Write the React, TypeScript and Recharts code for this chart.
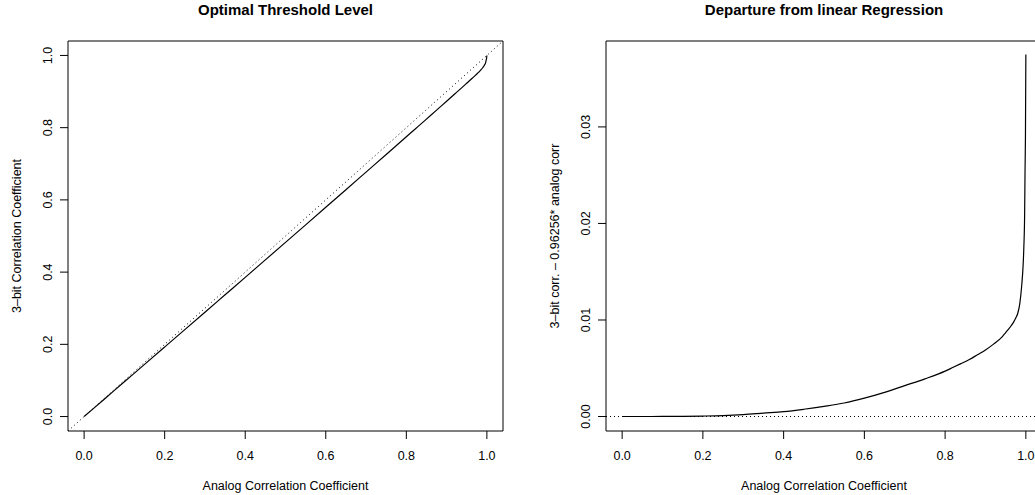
import React from "react";
import { LineChart, Line, XAxis, YAxis, ReferenceLine, ReferenceArea } from "recharts";

const analogCorr = [0, 0.05, 0.1, 0.15, 0.2, 0.25, 0.3, 0.35, 0.4, 0.45, 0.5, 0.55, 0.6, 0.65, 0.7, 0.75, 0.8, 0.82, 0.84, 0.86, 0.88, 0.9, 0.92, 0.94, 0.95, 0.96, 0.97, 0.975, 0.98, 0.985, 0.99, 0.993, 0.995, 0.997, 0.998, 0.999, 1.0];
const threeBitCorr = [0, 0.04813, 0.09627, 0.1444, 0.19256, 0.24074, 0.28897, 0.33725, 0.38552, 0.4339, 0.48233, 0.53081, 0.57944, 0.62816, 0.67699, 0.72582, 0.77475, 0.7944, 0.81405, 0.8337, 0.85345, 0.8732, 0.89306, 0.91301, 0.92313, 0.93326, 0.94348, 0.9487, 0.95401, 0.95982, 0.96663, 0.97132, 0.97525, 0.98067, 0.98613, 0.9906, 1.0];
const departure = [0, 0, 0.00001, 0.00002, 0.00005, 0.0001, 0.0002, 0.00035, 0.0005, 0.00075, 0.00105, 0.0014, 0.0019, 0.0025, 0.0032, 0.0039, 0.0047, 0.0051, 0.0055, 0.0059, 0.0064, 0.0069, 0.0075, 0.0082, 0.0087, 0.0092, 0.0098, 0.0102, 0.0107, 0.0117, 0.0137, 0.0155, 0.0175, 0.021, 0.0255, 0.029, 0.0375];

const xTicks = [0, 0.2, 0.4, 0.6, 0.8, 1.0];
const leftYTicks = [0, 0.2, 0.4, 0.6, 0.8, 1.0];
const rightYTicks = [0, 0.01, 0.02, 0.03];

const leftData = analogCorr.map((x, i) => ({ x, y: threeBitCorr[i] }));
const rightData = analogCorr.map((x, i) => ({ x, y: departure[i] }));

const FONT = "'Liberation Sans', Arial, Helvetica, sans-serif";
const FS = 12.5;

const XTick = (props: any) => {
  const { x, y, payload } = props;
  return (
    <text x={x} y={y} textAnchor="middle" fontFamily={FONT} fontSize={FS} fill="#000">
      {payload.value.toFixed(1)}
    </text>
  );
};

const makeYTick = (digits: number) => (props: any) => {
  const { x, y, payload } = props;
  return (
    <text x={x} y={y} textAnchor="middle" fontFamily={FONT} fontSize={FS} fill="#000" transform={`rotate(-90, ${x}, ${y})`}>
      {payload.value.toFixed(digits)}
    </text>
  );
};

const xLabel = (props: any) => {
  const vb = props.viewBox;
  return (
    <text x={vb.x + vb.width / 2} y={vb.y + 58.5} textAnchor="middle" fontFamily={FONT} fontSize={FS} fill="#000">
      Analog Correlation Coefficient
    </text>
  );
};

const makeYLabel = (text: string) => (props: any) => {
  const vb = props.viewBox;
  const x = vb.x + vb.width - 47.5;
  const y = vb.y + vb.height / 2;
  return (
    <text x={x} y={y} textAnchor="middle" fontFamily={FONT} fontSize={FS} fill="#000" transform={`rotate(-90, ${x}, ${y})`}>
      {text}
    </text>
  );
};

const titleStyle = (left: number, width: number): React.CSSProperties => ({
  position: "absolute",
  left,
  width,
  top: 0,
  textAlign: "center",
  fontFamily: FONT,
  fontWeight: "bold",
  fontSize: 15,
  lineHeight: "20px",
  color: "#000",
});

export default function App() {
  return (
    <div style={{ position: "fixed", left: 0, top: 0, width: 1035, height: 495, overflow: "hidden", background: "#fff" }}>
      <div style={titleStyle(68, 435)}>Optimal Threshold Level</div>
      <div style={titleStyle(606, 436)}>Departure from linear Regression</div>

      <div style={{ position: "absolute", left: 0, top: 0 }}>
        <LineChart width={517} height={495} data={leftData} margin={{ top: 41, right: 14, bottom: 0, left: 0 }}>
          <XAxis
            dataKey="x"
            type="number"
            domain={[-0.04, 1.04]}
            ticks={xTicks}
            allowDataOverflow
            height={64}
            tickSize={8}
            tickMargin={20.5}
            axisLine={false}
            tickLine={{ stroke: "#000", strokeWidth: 1 }}
            tick={XTick}
            label={{ content: xLabel }}
          />
          <YAxis
            dataKey="y"
            type="number"
            domain={[-0.04, 1.04]}
            ticks={leftYTicks}
            allowDataOverflow
            width={68}
            tickSize={8}
            tickMargin={7.5}
            axisLine={false}
            tickLine={{ stroke: "#000", strokeWidth: 1 }}
            tick={makeYTick(1)}
            label={{ content: makeYLabel("3\u2013bit Correlation Coefficient") }}
          />
          <ReferenceArea x1={-0.04} x2={1.04} y1={-0.04} y2={1.04} fill="none" stroke="#000" strokeWidth={1} fillOpacity={0} />
          <ReferenceLine
            segment={[{ x: -0.04, y: -0.04 }, { x: 1.04, y: 1.04 }]}
            stroke="#000"
            strokeWidth={1}
            strokeDasharray="1 3"
          />
          <Line type="monotone" dataKey="y" stroke="#000" strokeWidth={1.2} dot={false} isAnimationActive={false} />
        </LineChart>
      </div>

      <div style={{ position: "absolute", left: 518, top: 0 }}>
        <LineChart width={540} height={495} data={rightData} margin={{ top: 41, right: 16, bottom: 0, left: 0 }}>
          <XAxis
            dataKey="x"
            type="number"
            domain={[-0.04, 1.04]}
            ticks={xTicks}
            allowDataOverflow
            height={64}
            tickSize={8}
            tickMargin={20.5}
            axisLine={false}
            tickLine={{ stroke: "#000", strokeWidth: 1 }}
            tick={XTick}
            label={{ content: xLabel }}
          />
          <YAxis
            dataKey="y"
            type="number"
            domain={[-0.0015, 0.0389]}
            ticks={rightYTicks}
            allowDataOverflow
            width={88}
            tickSize={8}
            tickMargin={7.5}
            axisLine={false}
            tickLine={{ stroke: "#000", strokeWidth: 1 }}
            tick={makeYTick(2)}
            label={{ content: makeYLabel("3\u2013bit corr. \u2013 0.96256* analog corr") }}
          />
          <ReferenceArea x1={-0.04} x2={1.04} y1={-0.0015} y2={0.0389} fill="none" stroke="#000" strokeWidth={1} fillOpacity={0} />
          <ReferenceLine y={0} stroke="#000" strokeWidth={1} strokeDasharray="1 3" />
          <Line type="monotone" dataKey="y" stroke="#000" strokeWidth={1.2} dot={false} isAnimationActive={false} />
        </LineChart>
      </div>
    </div>
  );
}
